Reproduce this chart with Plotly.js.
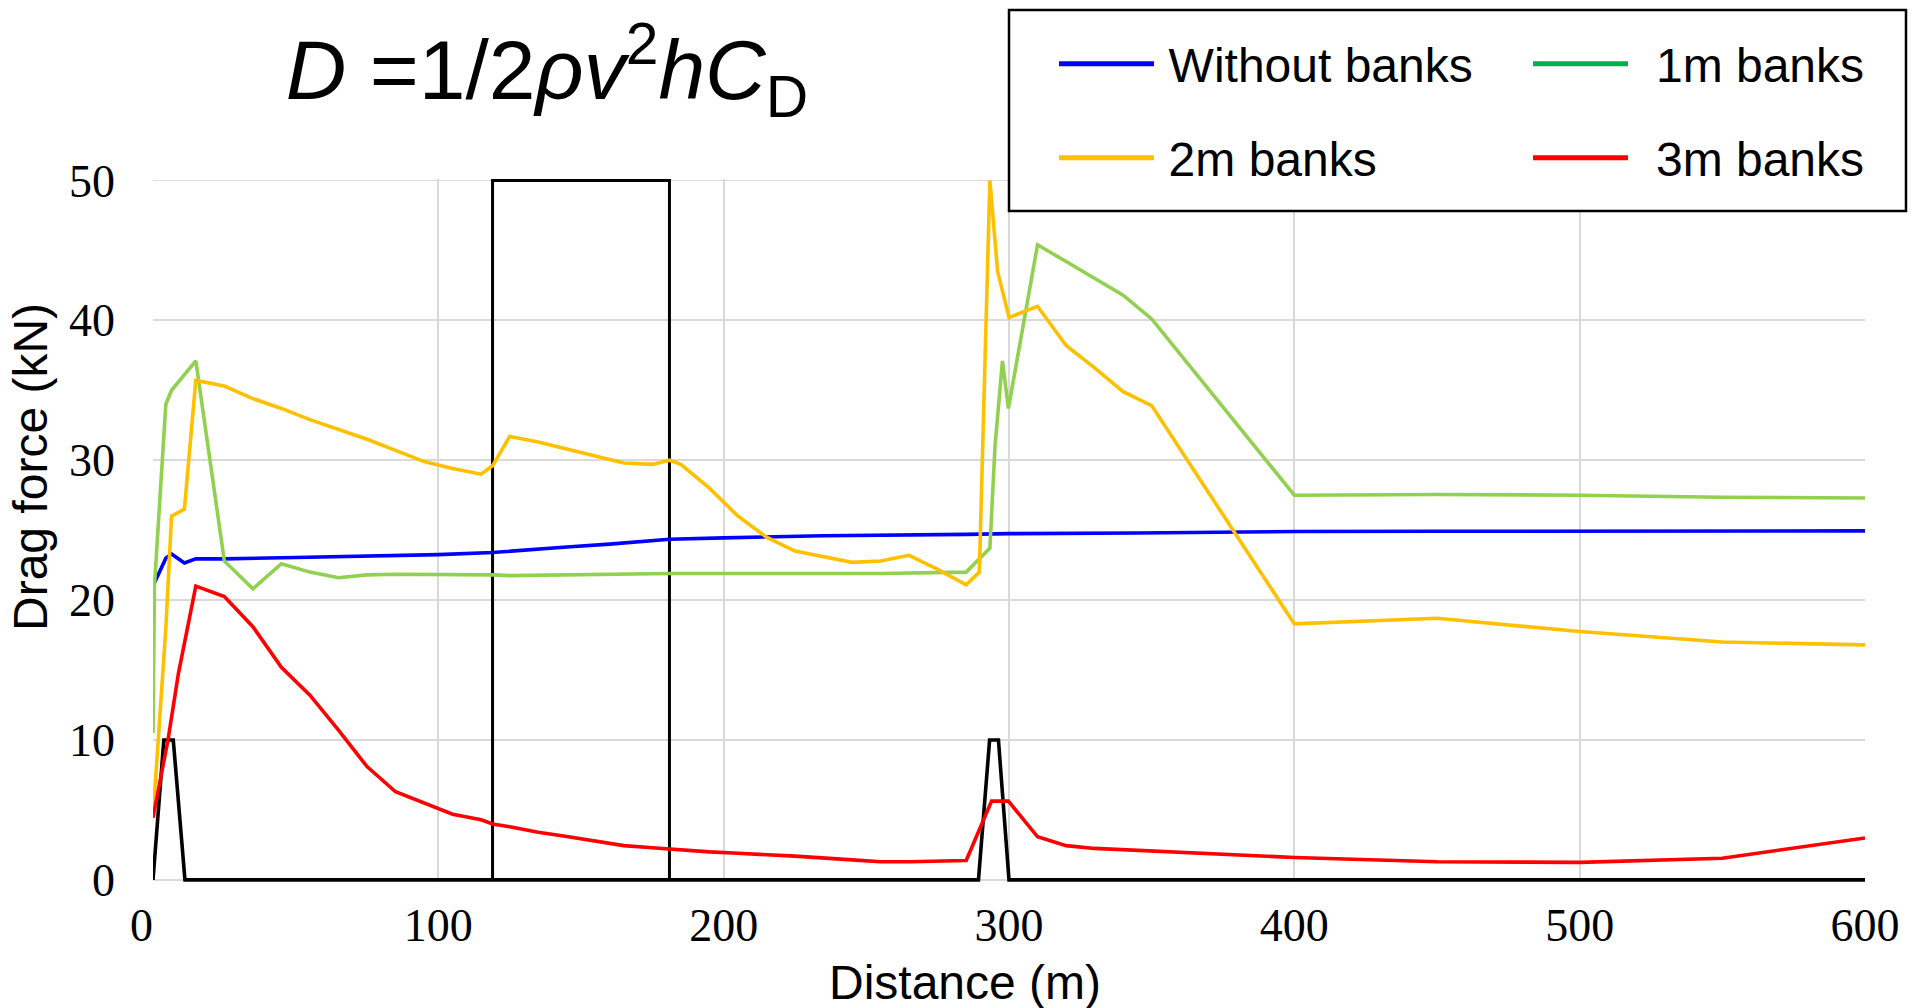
<!DOCTYPE html>
<html>
<head>
<meta charset="utf-8">
<script src="https://cdn.plot.ly/plotly-3.0.1.min.js"></script>
<style>
  html, body { margin: 0; padding: 0; background: #ffffff; }
  #chart { width: 1915px; height: 1008px; }
</style>
</head>
<body>
<div id="chart"></div>
<script>
// ---- Data ----
const seriesNames = ["Without banks", "1m banks", "2m banks", "3m banks"];

const withoutBanksX = [0, 4.5, 6.5, 11, 15, 25, 50, 100, 119, 125, 135, 145, 160, 181, 200, 235, 285, 300, 345, 400, 450, 500, 550, 600];
const withoutBanksY = [21.0, 23.0, 23.3, 22.65, 22.95, 22.95, 23.05, 23.25, 23.4, 23.5, 23.65, 23.8, 24.0, 24.35, 24.45, 24.6, 24.7, 24.75, 24.8, 24.9, 24.92, 24.95, 24.97, 24.95];

const banks1mX = [0, 0.5, 4.5, 6.5, 15, 25, 35, 45, 55, 65, 75, 85, 119, 125, 181, 200, 255, 285, 293.3, 295.1, 297.7, 299.8, 310, 320, 330, 340, 350, 400, 450, 500, 550, 600];
const banks1mY = [10.5, 21.0, 34.0, 35.0, 37.1, 22.8, 20.8, 22.6, 22.0, 21.6, 21.8, 21.85, 21.8, 21.75, 21.9, 21.9, 21.9, 22.0, 23.7, 31.0, 37.1, 33.7, 45.4, 44.2, 43.0, 41.8, 40.1, 27.5, 27.55, 27.5, 27.35, 27.3];

const banks2mX = [0, 4.5, 6.5, 11, 15, 25, 35, 45, 55, 65, 75, 85, 95, 105, 115, 119, 125, 135, 145, 155, 165, 175, 181, 185, 195, 205, 215, 225, 245, 255, 265, 275, 285, 289.6, 293.3, 296, 300, 310, 320, 330, 340, 350, 400, 450, 500, 550, 600];
const banks2mY = [4.5, 18.0, 26.0, 26.5, 35.7, 35.3, 34.4, 33.7, 32.9, 32.2, 31.5, 30.7, 29.9, 29.4, 29.0, 29.6, 31.7, 31.3, 30.8, 30.3, 29.8, 29.7, 30.0, 29.7, 28.0, 26.0, 24.5, 23.5, 22.7, 22.8, 23.2, 22.2, 21.1, 22.0, 50.0, 43.5, 40.2, 41.0, 38.2, 36.6, 34.9, 33.9, 18.3, 18.7, 17.75, 17.0, 16.8];

const banks3mX = [0, 5.3, 8.9, 15, 25, 35, 45, 55, 65, 75, 85, 95, 105, 115, 119, 125, 135, 145, 155, 165, 175, 181, 185, 195, 205, 215, 225, 245, 255, 265, 275, 285, 293.9, 299.8, 310, 320, 330, 340, 400, 450, 500, 550, 600];
const banks3mY = [4.45, 10.05, 14.75, 21.0, 20.25, 18.1, 15.2, 13.2, 10.7, 8.1, 6.3, 5.5, 4.7, 4.3, 4.0, 3.8, 3.4, 3.1, 2.75, 2.45, 2.3, 2.2, 2.15, 2.0, 1.9, 1.8, 1.7, 1.43, 1.3, 1.3, 1.35, 1.39, 5.63, 5.63, 3.08, 2.45, 2.25, 2.15, 1.6, 1.3, 1.25, 1.55, 3.0];

// Bed profile (black) and structure box
const profileX = [0, 3.8, 7.1, 11.2, 289.3, 293.2, 296.3, 300, 600];
const profileY = [0, 10, 10, 0, 0, 10, 10, 0, 0];
const boxX = [119, 119, 181, 181];
const boxY = [0, 50, 50, 0];

const xTicks = [0, 100, 200, 300, 400, 500, 600];
const xTickLabels = ["0\u2007", "100", "200", "300", "400", "500", "600"];
const yTicks = [0, 10, 20, 30, 40, 50];
const yTickLabels = ["0", "10", "20", "30", "40", "50"];

// ---- Styles ----
const lineColors = ["#0000ff", "#92d050", "#ffc000", "#ff0000"];
const legendColors = ["#0000ff", "#00b050", "#ffc000", "#ff0000"];
const legendPad = ["\u2009", "\u2009\u00a0", "\u2009", "\u2009\u00a0"];
const seriesX = [withoutBanksX, banks1mX, banks2mX, banks3mX];
const seriesY = [withoutBanksY, banks1mY, banks2mY, banks3mY];
const legendIds = ["legend", "legend2", "legend3", "legend4"];

const traces = [];
traces.push({ x: profileX, y: profileY, type: "scatter", mode: "lines",
  line: { color: "#000000", width: 3.6 }, showlegend: false, hoverinfo: "skip" });
traces.push({ x: boxX, y: boxY, type: "scatter", mode: "lines",
  line: { color: "#000000", width: 3 }, showlegend: false, hoverinfo: "skip" });
for (let i = 0; i < 4; i++) {
  traces.push({ x: seriesX[i], y: seriesY[i], type: "scatter", mode: "lines",
    name: seriesNames[i], line: { color: lineColors[i], width: 3.6 }, showlegend: false });
}
// legend entries (legend colour differs slightly from the plotted line for 1m banks)
for (let i = 0; i < 4; i++) {
  traces.push({ x: [null], y: [null], type: "scatter", mode: "lines",
    name: legendPad[i] + seriesNames[i], line: { color: legendColors[i], width: 5 },
    legend: legendIds[i], showlegend: true, hoverinfo: "skip" });
}

const W = 1915, H = 1008;
const mL = 153, mR = 50, mT = 179, mB = 126;
const pw = W - mL - mR, ph = H - mT - mB;
const px = v => (v - mL) / pw;          // container px -> paper x
const py = v => (H - mB - v) / ph;      // container px -> paper y

const sans = "Liberation Sans, Arial, sans-serif";
const serif = "Liberation Serif, Times New Roman, serif";
const legendFont = { family: sans, size: 48, color: "#000000" };
function mkLegend(lx, ly) {
  return { x: px(lx), y: py(ly), xanchor: "left", yanchor: "middle",
    bgcolor: "rgba(0,0,0,0)", borderwidth: 0, font: legendFont, itemwidth: 95,
    orientation: "v", itemclick: false, itemdoubleclick: false };
}

const layout = {
  width: W, height: H,
  margin: { l: mL, r: mR, t: mT, b: mB, pad: 0 },
  paper_bgcolor: "#ffffff", plot_bgcolor: "#ffffff",
  title: {
    text: "<i>D</i> =1/2<i>ρv</i><sup>2</sup><i>hC</i><sub>D</sub>",
    font: { family: sans, size: 84, color: "#000000" },
    xref: "container", yref: "container", x: 547 / W, xanchor: "center",
    y: 1 - 70 / H, yanchor: "middle"
  },
  xaxis: {
    range: [0, 600], tickvals: xTicks, ticktext: xTickLabels,
    showgrid: true, gridcolor: "#d9d9d9", gridwidth: 1.8,
    zeroline: false, showline: false, ticks: "", ticklabelstandoff: 12,
    tickfont: { family: serif, size: 46, color: "#000000" },
    fixedrange: true
  },
  yaxis: {
    range: [-0.15, 50.1], tickvals: yTicks, ticktext: yTickLabels,
    showgrid: true, gridcolor: "#d9d9d9", gridwidth: 1.8,
    zeroline: false, showline: false, ticks: "", ticklabelstandoff: 37,
    tickfont: { family: serif, size: 46, color: "#000000" },
    fixedrange: true
  },
  legend: mkLegend(1054, 64),
  legend2: mkLegend(1528, 64),
  legend3: mkLegend(1054, 158),
  legend4: mkLegend(1528, 158),
  shapes: [{
    type: "rect", xref: "paper", yref: "paper", layer: "above",
    x0: px(1009), x1: px(1906), y0: py(211), y1: py(10),
    line: { color: "#000000", width: 2.5 }, fillcolor: "#ffffff"
  }],
  annotations: [
    { text: "Drag force (kN)", xref: "paper", yref: "paper", x: px(30), y: py(467),
      xanchor: "center", yanchor: "middle", textangle: -90, showarrow: false,
      font: { family: sans, size: 48, color: "#000000" } },
    { text: "Distance (m)", xref: "paper", yref: "paper", x: px(965), y: py(982),
      xanchor: "center", yanchor: "middle", showarrow: false,
      font: { family: sans, size: 48, color: "#000000" } }
  ],
  showlegend: true
};

Plotly.newPlot("chart", traces, layout, { staticPlot: true, displayModeBar: false });
</script>
</body>
</html>
